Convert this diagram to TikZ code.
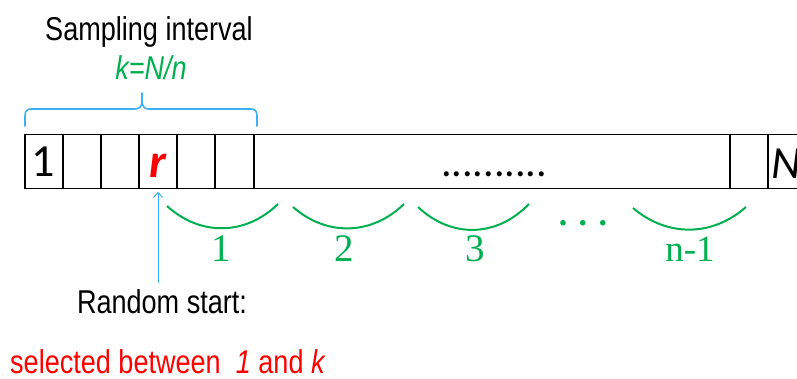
\documentclass[tikz,border=0pt]{standalone}
\usepackage{fontspec}
\setmainfont{Liberation Sans}
\newfontfamily\narrowfont[FakeStretch=0.82]{Liberation Sans}
\newfontfamily\calfont{Carlito}
\newfontfamily\seriffont{Liberation Serif}
\usetikzlibrary{arrows.meta}
\definecolor{brgreen}{RGB}{0,176,80}
\definecolor{brblue}{RGB}{60,175,245}
\definecolor{brred}{RGB}{255,0,0}
\begin{document}
\begin{tikzpicture}[x=1pt,y=-1pt,
  cellbox/.style={draw=black,line width=1.1pt,minimum height=54.4pt,outer sep=0pt,inner sep=0pt,anchor=north west},
  lbl/.style={inner sep=0pt,anchor=base},
  sanslbl/.style={lbl,font=\narrowfont\fontsize{33}{33}\selectfont},
  arcline/.style={draw=brgreen,line width=2pt},
  numlbl/.style={lbl,text=brgreen,font=\seriffont\fontsize{39}{39}\selectfont},
  bracepen/.style={draw=brblue,line width=1.6pt,line cap=round}
  ]
\useasboundingbox (0,0) rectangle (797,378);
\clip (0,0) rectangle (797,378);
% cells
\node[cellbox,minimum width=38pt] (c1) at (25,134.3) {};
\node[cellbox,minimum width=38pt] (c2) at (63,134.3) {};
\node[cellbox,minimum width=38pt] (c3) at (101,134.3) {};
\node[cellbox,minimum width=38pt] (c4) at (139,134.3) {};
\node[cellbox,minimum width=38pt] (c5) at (177,134.3) {};
\node[cellbox,minimum width=39pt] (c6) at (215,134.3) {};
\node[cellbox,minimum width=476pt] (c7) at (254,134.3) {};
\node[cellbox,minimum width=38pt] (c8) at (730,134.3) {};
\node[cellbox,minimum width=60pt] (c9) at (768,134.3) {};
% cell texts
\node[lbl,font=\calfont\fontsize{46}{46}\selectfont] (one) at (43,176.5) {1};
\node[lbl,text=brred,font=\calfont\bfseries\itshape\fontsize{48}{48}\selectfont] (rr) at (158,177) {r};
\node[lbl,anchor=base west,font=\calfont\fontsize{42}{42}\selectfont] (dots) at (441,176) {..........};
\node[lbl,anchor=base west,font=\calfont\itshape\fontsize{46}{46}\selectfont] (nn) at (771,178) {N};
% brace
\draw[bracepen] (25,126) -- (25,116) .. controls (25,111) and (27,109) .. (31,109) -- (135,109)
  .. controls (139,109) and (142,107) .. (142,101) -- (142,93);
\draw[bracepen] (142,101) .. controls (142,107) and (145,109) .. (149,109) -- (251,109)
  .. controls (255,109) and (257,111) .. (257,116) -- (257,126);
% titles
\node[sanslbl] (title) at (149,40) {Sampling interval};
\node[sanslbl,text=brgreen,font=\narrowfont\itshape\fontsize{33}{33}\selectfont] (kform) at (151,79) {k=N/n};
% random start
\node[sanslbl] (start) at (162,313) {Random start:};
\node[sanslbl,anchor=base west,text=brred] (sel) at (10,373) {selected between\ \ \textit{1} and \textit{k}};
\coordinate (foot) at (158,283);
\draw[brblue,line width=1pt,shorten >=3pt,-{Straight Barb[length=5pt,width=9pt]}] (foot) -- (c4.south);
% arcs
\draw[arcline] (167,206) .. controls (200,236) and (245,236) .. (278,204);
\draw[arcline] (293,207) .. controls (326,236) and (371,236) .. (404,204);
\draw[arcline] (418,207) .. controls (451,238) and (496,238) .. (529,204);
\draw[arcline] (633,208) .. controls (667,237) and (712,237) .. (746,207);
\node[numlbl] (g1) at (221,261) {1};
\node[numlbl] (g2) at (344,261) {2};
\node[numlbl] (g3) at (475,261) {3};
\node[numlbl,font=\seriffont\bfseries\fontsize{34}{34}\selectfont] (gdots) at (583,225) {. . .};
\node[numlbl,font=\seriffont\fontsize{37}{37}\selectfont] (g4) at (690,261) {n-1};
\end{tikzpicture}
\end{document}
